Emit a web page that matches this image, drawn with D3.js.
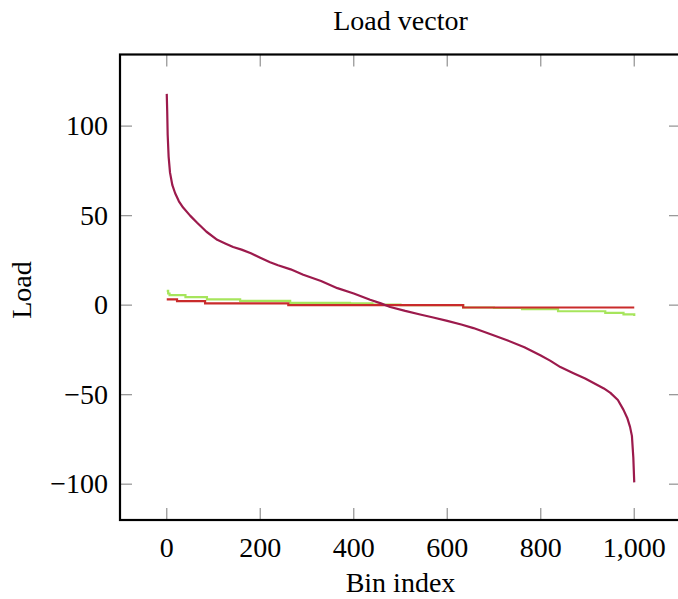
<!DOCTYPE html>
<html>
<head>
<meta charset="utf-8">
<script src="https://cdn.jsdelivr.net/npm/d3@7"></script>
<style>
  body { margin: 0; background: #fff; }
  text { font-family: "Liberation Serif", "DejaVu Serif", serif; fill: #000; }
</style>
</head>
<body>
<div id="chart"></div>
<script>
// values
var xTicks = [0, 200, 400, 600, 800, 1000];
var yTicks = [-100, -50, 0, 50, 100];

// sorted load per bin (purple)
var loadA = [
  [0, 118], [1, 108], [2, 95], [4, 83], [7, 74], [12, 67], [18, 62.5], [26, 58],
  [35, 54.5], [50, 50], [65, 46], [85, 41], [108, 36.5], [125, 34.5], [142, 32.5],
  [160, 31], [180, 29], [200, 26.5], [221, 24], [238, 22.3], [265, 20], [292, 17],
  [330, 13.5], [365, 9.5], [400, 6.5], [435, 3], [458, 1], [478, -1], [510, -3.2],
  [542, -5.2], [570, -6.9], [600, -8.8], [630, -10.8], [656, -12.8], [690, -16],
  [728, -19.6], [765, -23.5], [799, -28], [820, -31], [842, -34.6], [870, -38],
  [895, -41], [913, -43.5], [935, -46.5], [949, -49], [965, -53], [977, -58.5],
  [985, -63], [991, -68], [995, -73], [998, -85], [1000, -99]
];

// green series (stepped)
var loadB = [
  [0, 8], [3, 6.5], [6, 5.6], [40, 4.5], [86, 3.2], [157, 2.4], [264, 1.3],
  [392, 1], [440, 0.3], [500, 0], [634, -1.3], [700, -1.6], [760, -2.2],
  [837, -3.4], [938, -4.3], [977, -5.2], [1000, -6.1]
];

// red series (stepped)
var loadC = [
  [0, 3.2], [22, 2.2], [82, 1], [260, 0], [634, -1.3], [1000, -1.3]
];

var W = 678, H = 599;
var svg = d3.select("#chart").append("svg")
  .attr("width", W)
  .attr("height", H);

var x = d3.scaleLinear().domain([-100, 1100]).range([120, 681]),
    y = d3.scaleLinear().domain([-120, 140]).range([520, 54.5]);

var fmt = d3.format(",");
var tickLen = 12;

// lines
var line = d3.line()
  .x(function(d) { return x(d[0]); })
  .y(function(d) { return y(d[1]); });
var stepLine = d3.line()
  .curve(d3.curveStepAfter)
  .x(function(d) { return x(d[0]); })
  .y(function(d) { return y(d[1]); });

svg.append("path")
  .datum(loadB)
  .attr("fill", "none")
  .attr("stroke", "#a6e55c")
  .attr("stroke-width", 2.2)
  .attr("d", stepLine);

svg.append("path")
  .datum(loadC)
  .attr("fill", "none")
  .attr("stroke", "#c92b2b")
  .attr("stroke-width", 2.2)
  .attr("d", stepLine);

svg.append("path")
  .datum(loadA)
  .attr("fill", "none")
  .attr("stroke", "#9c1a4c")
  .attr("stroke-width", 2.2)
  .attr("stroke-linejoin", "round")
  .attr("d", line);

// ticks, pointing into the box on all four sides
var ticks = svg.append("g").attr("stroke", "#999").attr("stroke-width", 1.3);
xTicks.forEach(function(v) {
  ticks.append("line").attr("x1", x(v)).attr("x2", x(v))
    .attr("y1", y.range()[0]).attr("y2", y.range()[0] - tickLen);
  ticks.append("line").attr("x1", x(v)).attr("x2", x(v))
    .attr("y1", y.range()[1]).attr("y2", y.range()[1] + tickLen);
});
yTicks.forEach(function(v) {
  ticks.append("line").attr("y1", y(v)).attr("y2", y(v))
    .attr("x1", x.range()[0]).attr("x2", x.range()[0] + tickLen);
  ticks.append("line").attr("y1", y(v)).attr("y2", y(v))
    .attr("x1", x.range()[1]).attr("x2", x.range()[1] - tickLen);
});

// frame
svg.append("rect")
  .attr("x", x.range()[0])
  .attr("y", y.range()[1])
  .attr("width", x.range()[1] - x.range()[0])
  .attr("height", y.range()[0] - y.range()[1])
  .attr("fill", "none")
  .attr("stroke", "#000")
  .attr("stroke-width", 2.2);

// tick labels
svg.append("g").selectAll("text")
  .data(xTicks)
  .enter().append("text")
  .attr("x", function(d) { return x(d); })
  .attr("y", 557)
  .attr("text-anchor", "middle")
  .style("font-size", "28px")
  .text(function(d) { return fmt(d); });

svg.append("g").selectAll("text")
  .data(yTicks)
  .enter().append("text")
  .attr("x", 108)
  .attr("y", function(d) { return y(d); })
  .attr("dy", "0.33em")
  .attr("text-anchor", "end")
  .style("font-size", "28px")
  .text(function(d) { return fmt(d); });

// title and axis labels
svg.append("text")
  .attr("x", (x.range()[0] + x.range()[1]) / 2)
  .attr("y", 30)
  .attr("text-anchor", "middle")
  .style("font-size", "28px")
  .text("Load vector");

svg.append("text")
  .attr("x", (x(0) + x(1000)) / 2)
  .attr("y", 592)
  .attr("text-anchor", "middle")
  .style("font-size", "28px")
  .text("Bin index");

svg.append("text")
  .attr("transform", "translate(31," + 290 + ") rotate(-90)")
  .attr("text-anchor", "middle")
  .style("font-size", "28px")
  .text("Load");
</script>
</body>
</html>
